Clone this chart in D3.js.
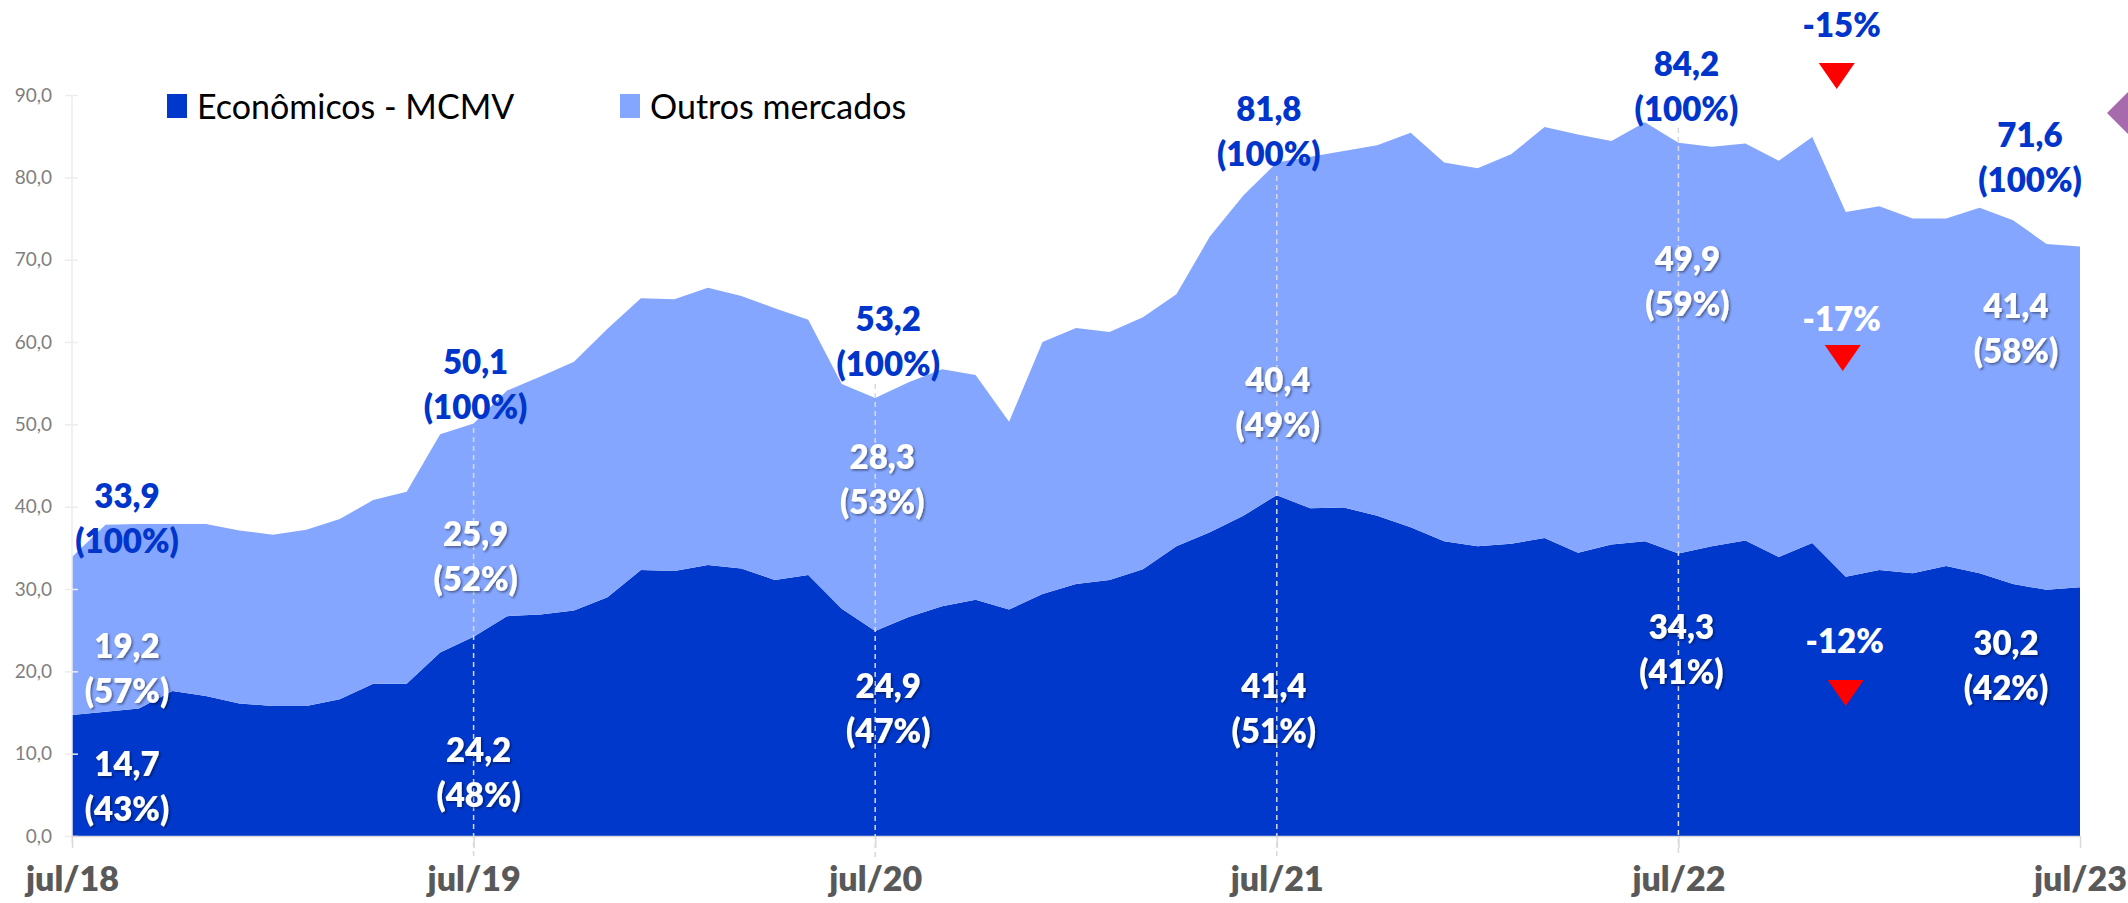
<!DOCTYPE html>
<html>
<head>
<meta charset="utf-8">
<script src="https://cdn.jsdelivr.net/npm/d3@7"></script>
<style>
  html, body { margin: 0; padding: 0; background: #fff; }
  svg { display: block; }
</style>
</head>
<body>
<svg id="chart" width="2128" height="903"></svg>
<script>
// monthly, jul/18 .. jul/23 (61 points)
const economicos = [
  14.7, 15.1, 15.5, 17.6, 17.0, 16.1, 15.8, 15.8, 16.6, 18.5,
  18.5, 22.3, 24.2, 26.7, 26.9, 27.4, 29.0, 32.3, 32.2, 32.9,
  32.5, 31.1, 31.7, 27.6, 24.9, 26.6, 27.9, 28.7, 27.5, 29.4,
  30.6, 31.1, 32.4, 35.2, 36.9, 38.9, 41.4, 39.8, 39.9, 38.9,
  37.5, 35.8, 35.2, 35.5, 36.2, 34.4, 35.4, 35.8, 34.3, 35.2,
  35.9, 33.9, 35.6, 31.5, 32.3, 31.9, 32.8, 31.9, 30.6, 29.9,
  30.2
];
const outros = [
  19.2, 22.7, 22.4, 20.3, 20.9, 21.0, 20.8, 21.4, 21.9, 22.3,
  23.3, 26.5, 25.9, 27.4, 28.9, 30.2, 32.6, 33.0, 33.0, 33.7,
  33.1, 33.0, 31.0, 27.3, 28.3, 28.5, 28.8, 27.3, 22.8, 30.6,
  31.1, 30.1, 30.6, 30.6, 35.9, 38.9, 40.4, 42.7, 43.3, 45.0,
  47.9, 46.0, 45.9, 47.3, 49.9, 50.8, 49.0, 50.9, 49.9, 48.5,
  48.2, 48.1, 49.3, 44.3, 44.2, 43.1, 42.2, 44.4, 44.2, 42.0,
  41.4
];
const seriesNames = ["Econômicos - MCMV", "Outros mercados"];
const tickIndex = [0, 12, 24, 36, 48, 60];
const tickLabels = ["jul/18", "jul/19", "jul/20", "jul/21", "jul/22", "jul/23"];
const yTicks = [0, 10, 20, 30, 40, 50, 60, 70, 80, 90];

const DARK = "#0038CC";
const LIGHT = "#85A6FF";
const LABEL_BLUE = "#0035CC";

const svg = d3.select("#chart");
const width = 2128;

const defs = svg.append("defs");
const shadow = defs.append("filter").attr("id", "shadow")
  .attr("x", "-20%").attr("y", "-20%").attr("width", "140%").attr("height", "140%");
shadow.append("feDropShadow")
  .attr("dx", 1.5).attr("dy", 1.5).attr("stdDeviation", 1.2)
  .attr("flood-color", "#000").attr("flood-opacity", 0.45);

const x = d3.scaleLinear().domain([0, 60]).range([72, 2080]);
const y = d3.scaleLinear().domain([0, 90]).range([836, 95]);

const table = economicos.map((e, i) => ({ i, eco: e, outros: outros[i] }));
const stacked = d3.stack().keys(["eco", "outros"])(table);

const area = d3.area()
  .x(d => x(d.data.i))
  .y0(d => y(d[0]))
  .y1(d => y(d[1]));

svg.append("g")
  .selectAll("path")
  .data(stacked)
  .join("path")
  .attr("d", area)
  .attr("fill", (d, k) => (k === 0 ? DARK : LIGHT));

// y axis
const fmt = d => d3.format(".1f")(d).replace(".", ",");
const yAxis = svg.append("g")
  .attr("transform", `translate(${x(0)},0)`)
  .call(d3.axisLeft(y).tickValues(yTicks).tickFormat(fmt).tickSize(7).tickPadding(13).tickSizeOuter(0));
yAxis.select(".domain").attr("stroke", "#ececec").attr("stroke-width", 1.5)
  .attr("d", `M0,${y(90)}V${y(0) + 6}`);
yAxis.selectAll(".tick line").attr("stroke", "#ececec").attr("stroke-width", 1.5).attr("x2", -7).attr("x1", 6);
yAxis.selectAll(".tick text")
  .attr("fill", "#7f7f7f")
  .style("font-family", "Lato, sans-serif")
  .style("font-size", "19px");

// x axis
const xAxis = svg.append("g")
  .attr("transform", `translate(0,${y(0)})`)
  .call(d3.axisBottom(x).tickValues(tickIndex).tickFormat((d, k) => tickLabels[k]).tickSize(12).tickSizeOuter(0));
xAxis.select(".domain").attr("stroke", "#d9d9d9").attr("stroke-width", 1.5);
xAxis.selectAll(".tick line").attr("stroke", "#d9d9d9").attr("stroke-width", 1.5);
xAxis.selectAll(".tick text")
  .attr("y", 55).attr("dy", 0)
  .attr("fill", "#595959")
  .style("font-family", "Lato, sans-serif")
  .style("font-weight", "800")
  .style("font-size", "34px");

// dashed guides at jul/19 .. jul/22
const guideTop = { 12: 428, 24: 384, 36: 176, 48: 128 };
svg.append("g")
  .selectAll("line")
  .data([12, 24, 36, 48])
  .join("line")
  .attr("x1", d => x(d)).attr("x2", d => x(d))
  .attr("y1", d => guideTop[d]).attr("y2", y(0) + 21)
  .attr("stroke", "#d9d9d9").attr("stroke-width", 1.5)
  .attr("stroke-dasharray", "5,4");

// data labels
const pct = (a, b) => `(${Math.round(a / b * 100)}%)`;
const num = v => d3.format(".1f")(v).replace(".", ",");
const labelLayout = [
  { i: 0, dx: [55, 55, 55], cy: [496, 646, 764] },
  { i: 12, dx: [2, 2, 5], cy: [362, 534, 750] },
  { i: 24, dx: [13, 7, 13], cy: [319, 457, 686] },
  { i: 36, dx: [-8, 1, -3], cy: [109, 380, 686] },
  { i: 48, dx: [8, 9, 3], cy: [64, 259, 627] },
  { i: 60, dx: [-50, -64, -74], cy: [135, 306, 643] }
];
const labels = [];
labelLayout.forEach(l => {
  const e = economicos[l.i], o = outros[l.i], t = +(e + o).toFixed(1);
  labels.push({ x: x(l.i) + l.dx[0], cy: l.cy[0], lines: [num(t), "(100%)"], fill: LABEL_BLUE, sh: false });
  labels.push({ x: x(l.i) + l.dx[1], cy: l.cy[1], lines: [num(o), pct(o, t)], fill: "#fff", sh: true });
  labels.push({ x: x(l.i) + l.dx[2], cy: l.cy[2], lines: [num(e), pct(e, t)], fill: "#fff", sh: true });
});

const lg = svg.append("g")
  .style("font-family", "Lato, sans-serif")
  .style("font-weight", "800")
  .style("font-size", "33px")
  .attr("text-anchor", "middle");
labels.forEach(l => {
  const t = lg.append("text").attr("fill", l.fill);
  if (l.sh) t.attr("filter", "url(#shadow)");
  l.lines.forEach((s, k) => {
    t.append("tspan").attr("x", l.x).attr("y", l.cy + 12 + k * 45).text(s);
  });
});

// variation jul/22 -> jul/23
const i0 = 48, i1 = 60;
const tot = i => economicos[i] + outros[i];
const chg = (a, b) => `${Math.round((b / a - 1) * 100)}%`;
const changes = [
  { text: chg(tot(i0), tot(i1)), dx: -4, cy: 25, tri: 63, tdx: -9, fill: LABEL_BLUE },
  { text: chg(outros[i0], outros[i1]), dx: -4, cy: 319, tri: 345, tdx: -3, fill: "#fff" },
  { text: chg(economicos[i0], economicos[i1]), dx: -1, cy: 641, tri: 680, tdx: 0, fill: "#fff" }
];
const cx = x(53);
changes.forEach(c => {
  lg.append("text")
    .attr("x", cx + c.dx).attr("y", c.cy + 12)
    .attr("fill", c.fill)
    .text(c.text);
  const tx = cx + c.tdx;
  svg.append("path")
    .attr("d", `M${tx - 18},${c.tri}L${tx + 18},${c.tri}L${tx},${c.tri + 26}Z`)
    .attr("fill", "#FF0000");
});

// legend
const legend = svg.append("g")
  .style("font-family", "Lato, sans-serif")
  .style("font-size", "34px");
const legendX = [167, 620];
seriesNames.forEach((name, k) => {
  legend.append("rect")
    .attr("x", legendX[k]).attr("y", 94)
    .attr("width", 20).attr("height", 24)
    .attr("fill", k === 0 ? DARK : LIGHT);
  legend.append("text")
    .attr("x", legendX[k] + 30).attr("y", 119)
    .attr("fill", "#000")
    .text(name);
});

// diamond marker cut by the right edge
svg.append("path")
  .attr("d", `M${width - 21},113L${width + 3},89L${width + 27},113L${width + 3},137Z`)
  .attr("fill", "#A66AAD");
</script>
</body>
</html>
